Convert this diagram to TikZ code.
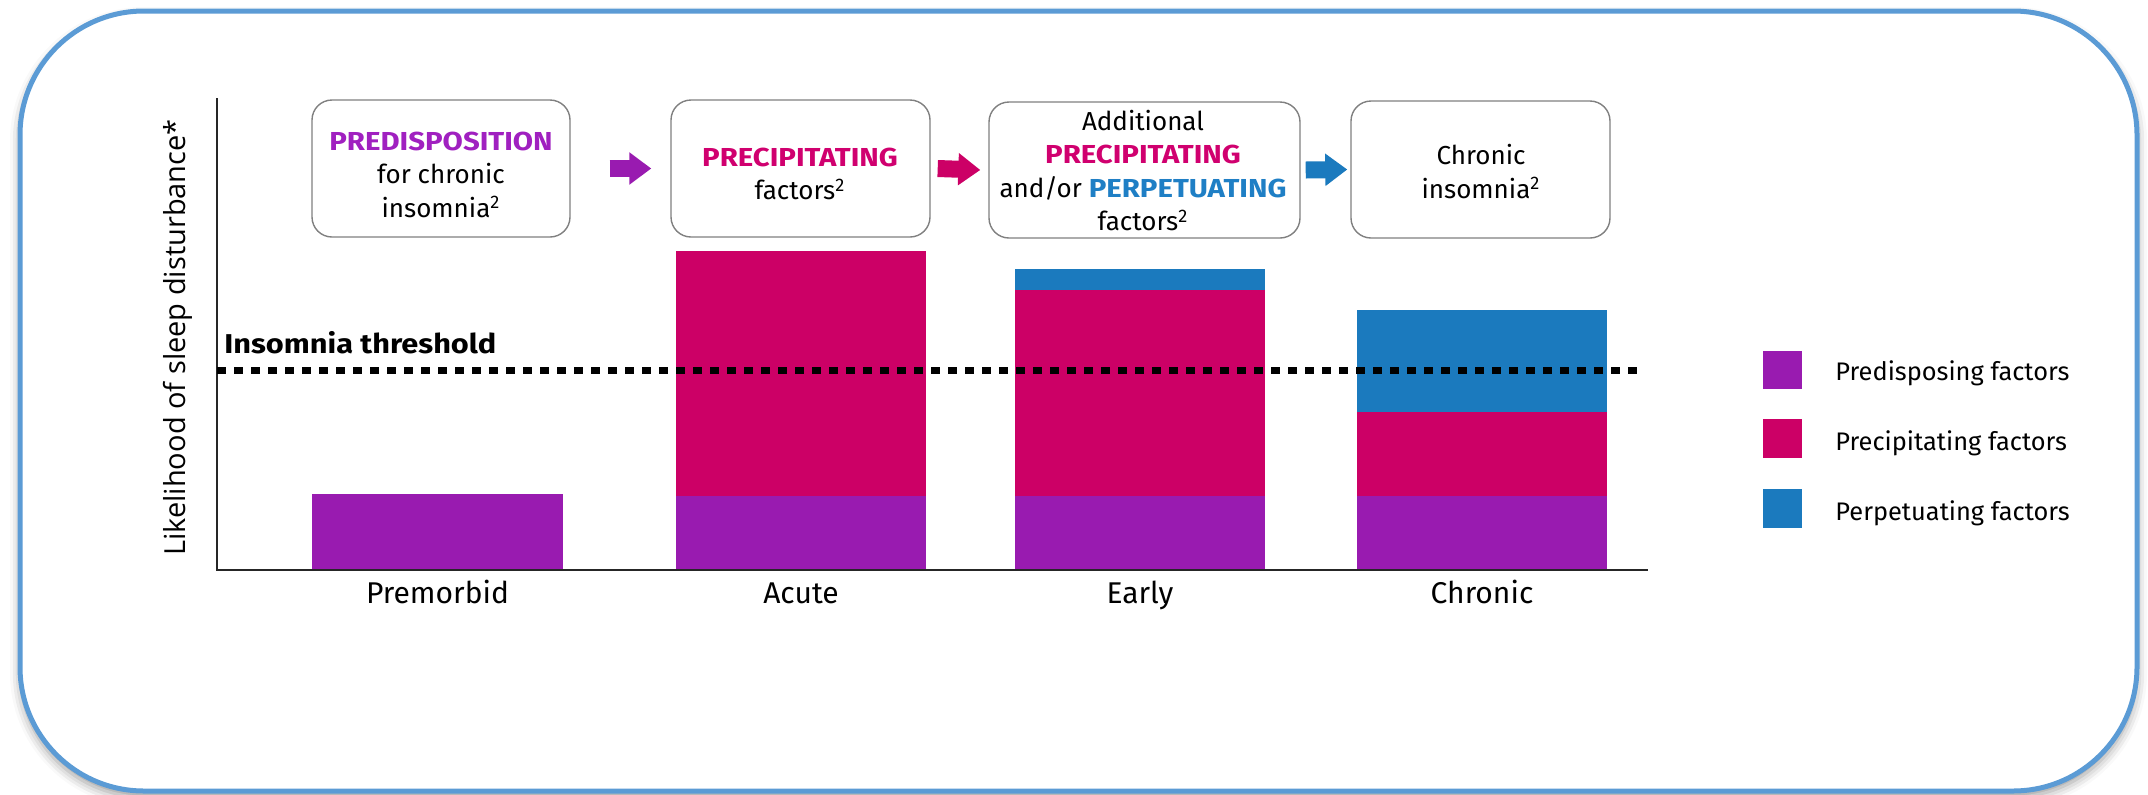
\documentclass[tikz,border=0pt]{standalone}
\usepackage{fontspec}
\setmainfont{Fira Sans}[BoldFeatures={FakeStretch=1.13}]
\newfontfamily\ylabfont{Open Sans}
\usetikzlibrary{arrows.meta,calc,shadows.blur}
\definecolor{cPur}{HTML}{991BB0}
\definecolor{cMag}{HTML}{CC0066}
\definecolor{cBlu}{HTML}{1B7ABE}
\definecolor{cPurT}{HTML}{A020C0}
\definecolor{cMagT}{HTML}{D0006F}
\definecolor{cBluT}{HTML}{1F7FC5}
\definecolor{cFrame}{HTML}{5B9BD5}
\definecolor{cGray}{HTML}{808080}
\tikzset{
  frame/.style={draw=cFrame, line width=2.5pt, rounded corners=62pt, fill=white,
    blur shadow={shadow xshift=0pt, shadow yshift=-3pt, shadow opacity=40, shadow blur radius=5pt}},
  stagebox/.style={draw=cGray, line width=0.7pt, rounded corners=10pt, fill=white, inner sep=0pt},
  boxtext/.style={align=center, font=\fontsize{13}{16.75}\selectfont, inner sep=0pt},
  blockarrow/.style={line width=8.5pt, -{Triangle[length=11pt,width=15.5pt]}, draw=#1},
  barlabel/.style={anchor=base, font=\fontsize{15}{17}\selectfont, inner sep=0pt},
  legtext/.style={anchor=base west, font=\fontsize{12.7}{15}\selectfont, inner sep=0pt},
  axisline/.style={draw=black!85, line width=0.9pt},
  threshold/.style={draw=black, line width=3.5pt, dash pattern=on 4.5pt off 4pt},
}
\begin{document}
\begin{tikzpicture}[x=0.5pt,y=-0.5pt]
\useasboundingbox (0,0) rectangle (2148,794);
% outer frame
\path[frame] (20,11) rectangle (2137,791);

% bars
\fill[cPur] (312,494) rectangle (563,570);
\fill[cPur] (676,496) rectangle (926,570);
\fill[cMag] (676,251) rectangle (926,496);
\fill[cPur] (1015,496) rectangle (1265,570);
\fill[cMag] (1015,290) rectangle (1265,496);
\fill[cBlu] (1015,269) rectangle (1265,290);
\fill[cPur] (1357,496) rectangle (1607,570);
\fill[cMag] (1357,412) rectangle (1607,496);
\fill[cBlu] (1357,310) rectangle (1607,412);

% axes
\coordinate (ytop) at (217,98);
\coordinate (origin) at (217,570);
\coordinate (xend) at (1648,570);
\draw[axisline] (ytop) -- (origin) -- (xend);

% threshold
\coordinate (thrA) at (217,370);
\coordinate (thrB) at (1640,370);
\draw[threshold] (thrA) -- (thrB);
\node[anchor=base west, font=\bfseries\fontsize{13.6}{16}\selectfont, inner sep=0pt] (thr) at (224,353) {Insomnia threshold};

% y label
\node[rotate=90, anchor=base, inner sep=0pt, font=\ylabfont\fontsize{14.5}{16}\selectfont] (ylab) at (185,337.5) {Likelihood of sleep disturbance*};

% bar labels
\node[barlabel] (lPre) at (437.5,603) {Premorbid};
\node[barlabel] (lAcu) at (801,603) {Acute};
\node[barlabel] (lEar) at (1140,603) {Early};
\node[barlabel] (lChr) at (1482,603) {Chronic};

% stage boxes
\node[stagebox, minimum width=129pt, minimum height=68.5pt] (b1) at (441,168.5) {};
\node[stagebox, minimum width=129.5pt, minimum height=68.5pt] (b2) at (800.5,168.5) {};
\node[stagebox, minimum width=155.5pt, minimum height=68pt] (b3) at (1144.5,170) {};
\node[stagebox, minimum width=129.5pt, minimum height=68.5pt] (b4) at (1480.5,169.5) {};

\node[boxtext] (t1) at (441,174.5) {\textcolor{cPurT}{\bfseries PREDISPOSITION}\\for chronic\\insomnia\textsuperscript{2}};
\node[boxtext] (t2) at (800,174) {\textcolor{cMagT}{\bfseries PRECIPITATING}\\factors\textsuperscript{2}};
\node[boxtext] (t3) at (1143,170.5) {Additional\\\textcolor{cMagT}{\bfseries PRECIPITATING}\\and/or \textcolor{cBluT}{\bfseries PERPETUATING}\\factors\textsuperscript{2}};
\node[boxtext] (t4) at (1481,171.5) {Chronic\\insomnia\textsuperscript{2}};

% block arrows
\draw[blockarrow=cPur] ($(b1.east)+(39,0)$) -- ($(b2.west)+(-19,0)$);
\draw[blockarrow=cMag] ($(b2.east)+(7,0)$) -- ($(b3.west)+(-8,0)$);
\draw[blockarrow=cBlu] ($(b3.east)+(5,0)$) -- ($(b4.west)+(-3,0)$);

% legend
\fill[cPur] (1763,351) rectangle (1802,389);
\fill[cMag] (1763,419) rectangle (1802,458);
\fill[cBlu] (1763,489) rectangle (1802,528);
\node[legtext] (g1) at (1835,380) {Predisposing factors};
\node[legtext] (g2) at (1835,450) {Precipitating factors};
\node[legtext] (g3) at (1835,520) {Perpetuating factors};
\end{tikzpicture}
\end{document}
